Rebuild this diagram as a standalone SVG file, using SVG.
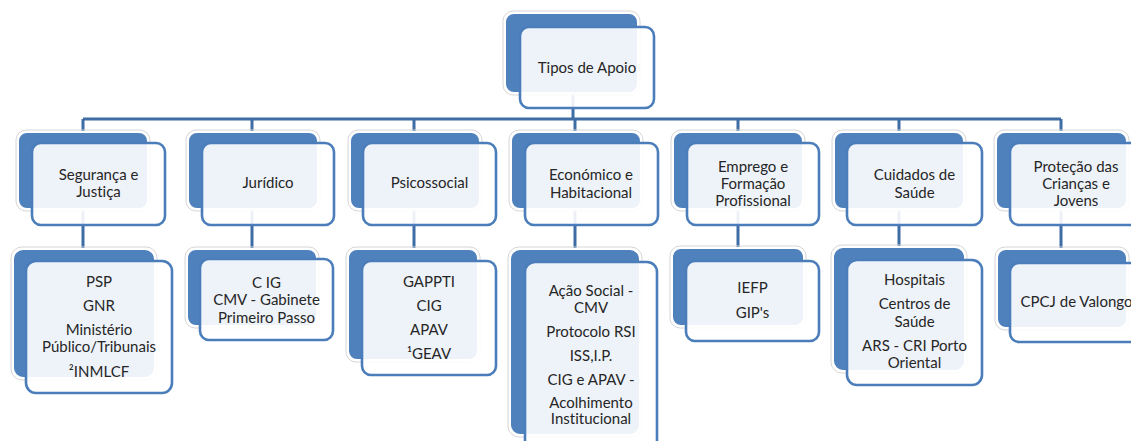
<svg xmlns="http://www.w3.org/2000/svg" width="1131" height="441" viewBox="0 0 1131 441">
<style>
.bg{fill:#ffffff}
.halo{fill:none;stroke:#d6d6d6;stroke-width:1}
.back{fill:#4f81bd;stroke:#ffffff;stroke-width:2}
.front{fill:#ffffff;fill-opacity:0.9;stroke:#4a7dba;stroke-width:2.6}
.conn{fill:none;stroke:#3e6ca4;stroke-width:3}
text{font-family:Lato,"Liberation Sans",sans-serif;font-size:15px;fill:#262626;text-anchor:middle;font-variant-ligatures:none}
</style>
<rect class="bg" x="0" y="0" width="1131" height="441"/>
<g id="connectors">
  <path class="conn" d="M573,93 V119"/>
  <path class="conn" d="M83,119 H1061"/>
  <path class="conn" d="M83,119 V249"/>
  <path class="conn" d="M252,119 V249"/>
  <path class="conn" d="M414,119 V249"/>
  <path class="conn" d="M575,119 V249"/>
  <path class="conn" d="M738,119 V249"/>
  <path class="conn" d="M899,119 V249"/>
  <path class="conn" d="M1061,119 V249"/>
</g>
<g id="n-top">
  <rect class="halo" x="503" y="11" width="137" height="84" rx="10"/>
  <rect class="back" x="505" y="13" width="133" height="80" rx="9"/>
  <rect class="front" x="520" y="27" width="134" height="81" rx="9"/>
  <text x="587" y="73">Tipos de Apoio</text>
</g>
<g id="n-seguranca">
  <rect class="halo" x="16" y="130" width="134" height="81" rx="10"/>
  <rect class="back" x="18" y="132" width="130" height="77" rx="9"/>
  <rect class="front" x="32" y="143" width="133" height="82" rx="9"/>
  <text x="98.5" y="180">Segurança e</text>
  <text x="98.5" y="197">Justiça</text>
</g>
<g id="n-juridico">
  <rect class="halo" x="186" y="130" width="134" height="81" rx="10"/>
  <rect class="back" x="188" y="132" width="130" height="77" rx="9"/>
  <rect class="front" x="202" y="143" width="132" height="82" rx="9"/>
  <text x="268" y="188">Jurídico</text>
</g>
<g id="n-psicossocial">
  <rect class="halo" x="348" y="130" width="134" height="81" rx="10"/>
  <rect class="back" x="350" y="132" width="130" height="77" rx="9"/>
  <rect class="front" x="363" y="143" width="133" height="82" rx="9"/>
  <text x="429.5" y="188">Psicossocial</text>
</g>
<g id="n-economico">
  <rect class="halo" x="509" y="130" width="134" height="81" rx="10"/>
  <rect class="back" x="511" y="132" width="130" height="77" rx="9"/>
  <rect class="front" x="525" y="143" width="133" height="82" rx="9"/>
  <text x="591" y="180">Económico e</text>
  <text x="591" y="198">Habitacional</text>
</g>
<g id="n-emprego">
  <rect class="halo" x="671" y="130" width="134" height="81" rx="10"/>
  <rect class="back" x="673" y="132" width="130" height="77" rx="9"/>
  <rect class="front" x="687" y="143" width="132" height="82" rx="9"/>
  <text x="753" y="172">Emprego e</text>
  <text x="753" y="189">Formação</text>
  <text x="753" y="206">Profissional</text>
</g>
<g id="n-cuidados">
  <rect class="halo" x="832" y="130" width="134" height="81" rx="10"/>
  <rect class="back" x="834" y="132" width="130" height="77" rx="9"/>
  <rect class="front" x="847" y="143" width="135" height="82" rx="9"/>
  <text x="914.5" y="180">Cuidados de</text>
  <text x="914.5" y="198">Saúde</text>
</g>
<g id="n-protecao">
  <rect class="halo" x="994" y="130" width="135" height="81" rx="10"/>
  <rect class="back" x="996" y="132" width="131" height="77" rx="9"/>
  <rect class="front" x="1010" y="143" width="133" height="82" rx="9"/>
  <text x="1076" y="172">Proteção das</text>
  <text x="1076" y="189">Crianças e</text>
  <text x="1076" y="206">Jovens</text>
</g>
<g id="l-seguranca">
  <rect class="halo" x="11" y="247" width="146" height="133" rx="11"/>
  <rect class="back" x="13" y="249" width="142" height="129" rx="10"/>
  <rect class="front" x="26" y="261" width="146" height="132" rx="10"/>
  <text x="99" y="287">PSP</text>
  <text x="99" y="311">GNR</text>
  <text x="99" y="335">Ministério</text>
  <text x="99" y="352">Público/Tribunais</text>
  <text x="99" y="377">²INMLCF</text>
</g>
<g id="l-juridico">
  <rect class="halo" x="185" y="247" width="134" height="81" rx="10"/>
  <rect class="back" x="187" y="249" width="130" height="77" rx="9"/>
  <rect class="front" x="200" y="259" width="133" height="81" rx="9"/>
  <text x="266.5" y="288">C IG</text>
  <text x="266.5" y="305">CMV - Gabinete</text>
  <text x="266.5" y="323">Primeiro Passo</text>
</g>
<g id="l-psicossocial">
  <rect class="halo" x="346" y="247" width="134" height="115" rx="10"/>
  <rect class="back" x="348" y="249" width="130" height="111" rx="9"/>
  <rect class="front" x="362" y="261" width="134" height="114" rx="9"/>
  <text x="429" y="287">GAPPTI</text>
  <text x="429" y="311">CIG</text>
  <text x="429" y="335">APAV</text>
  <text x="429" y="359">¹GEAV</text>
</g>
<g id="l-economico">
  <rect class="halo" x="508" y="247" width="134" height="190" rx="11"/>
  <rect class="back" x="510" y="249" width="130" height="186" rx="10"/>
  <rect class="front" x="525" y="262" width="132" height="192" rx="10"/>
  <text x="591" y="296">Ação Social -</text>
  <text x="591" y="313">CMV</text>
  <text x="591" y="337">Protocolo RSI</text>
  <text x="591" y="361">ISS,I.P.</text>
  <text x="591" y="385">CIG e APAV -</text>
  <text x="591" y="408">Acolhimento</text>
  <text x="591" y="424">Institucional</text>
</g>
<g id="l-emprego">
  <rect class="halo" x="670" y="246" width="136" height="82" rx="10"/>
  <rect class="back" x="672" y="248" width="132" height="78" rx="9"/>
  <rect class="front" x="686" y="261" width="133" height="80" rx="9"/>
  <text x="752.5" y="293">IEFP</text>
  <text x="752.5" y="318">GIP's</text>
</g>
<g id="l-cuidados">
  <rect class="halo" x="831" y="245" width="136" height="128" rx="11"/>
  <rect class="back" x="833" y="247" width="132" height="124" rx="10"/>
  <rect class="front" x="847" y="260" width="135" height="125" rx="10"/>
  <text x="914.5" y="285">Hospitais</text>
  <text x="914.5" y="309">Centros de</text>
  <text x="914.5" y="327">Saúde</text>
  <text x="914.5" y="351">ARS - CRI Porto</text>
  <text x="914.5" y="368">Oriental</text>
</g>
<g id="l-protecao">
  <rect class="halo" x="995" y="247" width="134" height="83" rx="10"/>
  <rect class="back" x="997" y="249" width="130" height="79" rx="9"/>
  <rect class="front" x="1010" y="263" width="133" height="79" rx="9"/>
  <text x="1076.5" y="307">CPCJ de Valongo</text>
</g>
</svg>
